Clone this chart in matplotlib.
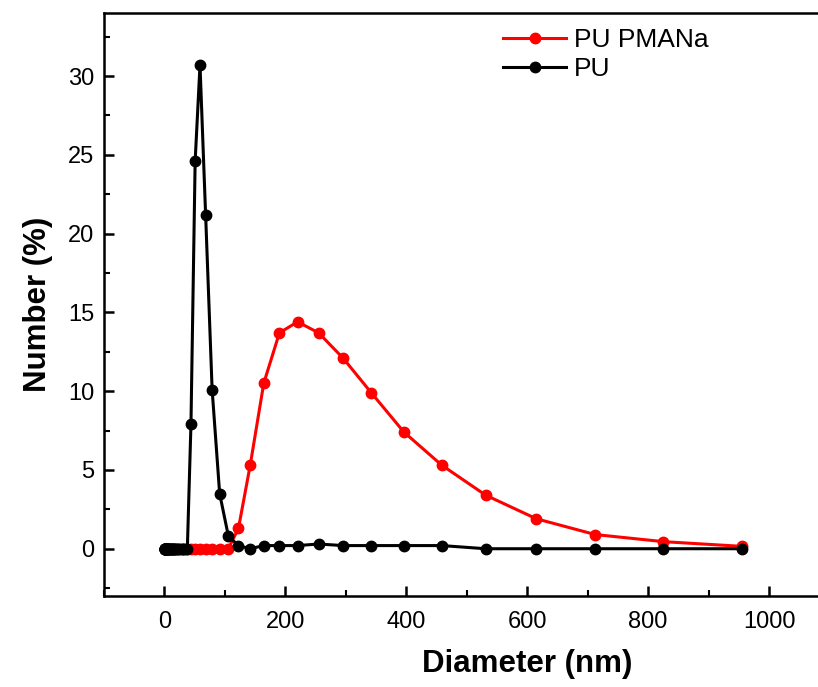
import matplotlib
matplotlib.use("Agg")
import matplotlib.pyplot as plt
from matplotlib.ticker import MultipleLocator

plt.rcParams['font.family'] = ['Liberation Sans', 'DejaVu Sans']

# Size bins (nm)
diameter = [0.4, 0.4632, 0.5365, 0.6213, 0.7195, 0.8332, 0.9649, 1.117, 1.294,
            1.499, 1.736, 2.010, 2.328, 2.696, 3.122, 3.615, 4.187, 4.849, 5.615,
            6.503, 7.531, 8.721, 10.10, 11.70, 13.54, 15.69, 18.17, 21.04, 24.36,
            28.21, 32.67, 37.84, 43.82, 50.75, 58.77, 68.06, 78.82, 91.28, 105.7,
            122.4, 141.8, 164.2, 190.1, 220.2, 255.0, 295.3, 342.0, 396.1, 458.7,
            531.2, 615.1, 712.4, 825.0, 955.4]

# Number distribution (%) for each sample
pu_pmana = [0, 0, 0, 0, 0, 0, 0, 0, 0,
            0, 0, 0, 0, 0, 0, 0, 0, 0, 0,
            0, 0, 0, 0, 0, 0, 0, 0, 0, 0,
            0, 0, 0, 0, 0, 0, 0, 0, 0, 0,
            1.3, 5.3, 10.5, 13.7, 14.4, 13.7, 12.1, 9.9, 7.4, 5.3,
            3.4, 1.9, 0.9, 0.45, 0.15]

pu = [0, 0, 0, 0, 0, 0, 0, 0, 0,
      0, 0, 0, 0, 0, 0, 0, 0, 0, 0,
      0, 0, 0, 0, 0, 0, 0, 0, 0, 0,
      0, 0, 0, 7.9, 24.6, 30.7, 21.2, 10.1, 3.5, 0.8,
      0.2, 0.0, 0.2, 0.2, 0.2, 0.3, 0.2, 0.2, 0.2, 0.2,
      0.0, 0.0, 0.0, 0.0, 0.0]

x_ticks = [0, 200, 400, 600, 800, 1000]

X_MIN, X_MAX = -100, 1300
px_per_nm = 0.605
x0_px, left_px = 164, 104
right_px = x0_px + X_MAX * px_per_nm

fig = plt.figure(figsize=(8.18, 6.87), dpi=100)
ax = fig.add_axes([left_px / 818, (687 - 596) / 687,
                   (right_px - left_px) / 818, (596 - 13) / 687])

ax.plot(diameter, pu_pmana, color='#FF0000', lw=2.2, marker='o', ms=7.5,
        label='PU PMANa', zorder=2)
ax.plot(diameter, pu, color='black', lw=2.2, marker='o', ms=7.5,
        label='PU', zorder=3)

ax.set_xlim(X_MIN, X_MAX)
ax.set_ylim(-3, 34)
ax.set_xticks(x_ticks)
ax.xaxis.set_minor_locator(MultipleLocator(100))
ax.yaxis.set_major_locator(MultipleLocator(5))
ax.yaxis.set_minor_locator(MultipleLocator(2.5))

for s in ax.spines.values():
    s.set_linewidth(1.8)
ax.tick_params(which='major', direction='in', length=7, width=1.8,
               labelsize=17)
ax.tick_params(axis='x', which='major', pad=11)
ax.tick_params(axis='y', which='major', pad=7)
ax.tick_params(which='minor', direction='in', length=4, width=1.5)

ax.set_xlabel('Diameter (nm)', fontsize=22.5, fontweight='bold', labelpad=11)
ax.set_ylabel('Number (%)', fontsize=22.5, fontweight='bold', labelpad=11)

ax.legend(loc='upper left', bbox_to_anchor=(503 / 818, 1 - 28 / 687),
          bbox_transform=fig.transFigure, frameon=False, fontsize=19,
          handlelength=2.4, handletextpad=0.3, labelspacing=0.2,
          borderaxespad=0, borderpad=0)

fig.savefig('out.png', dpi=100)
